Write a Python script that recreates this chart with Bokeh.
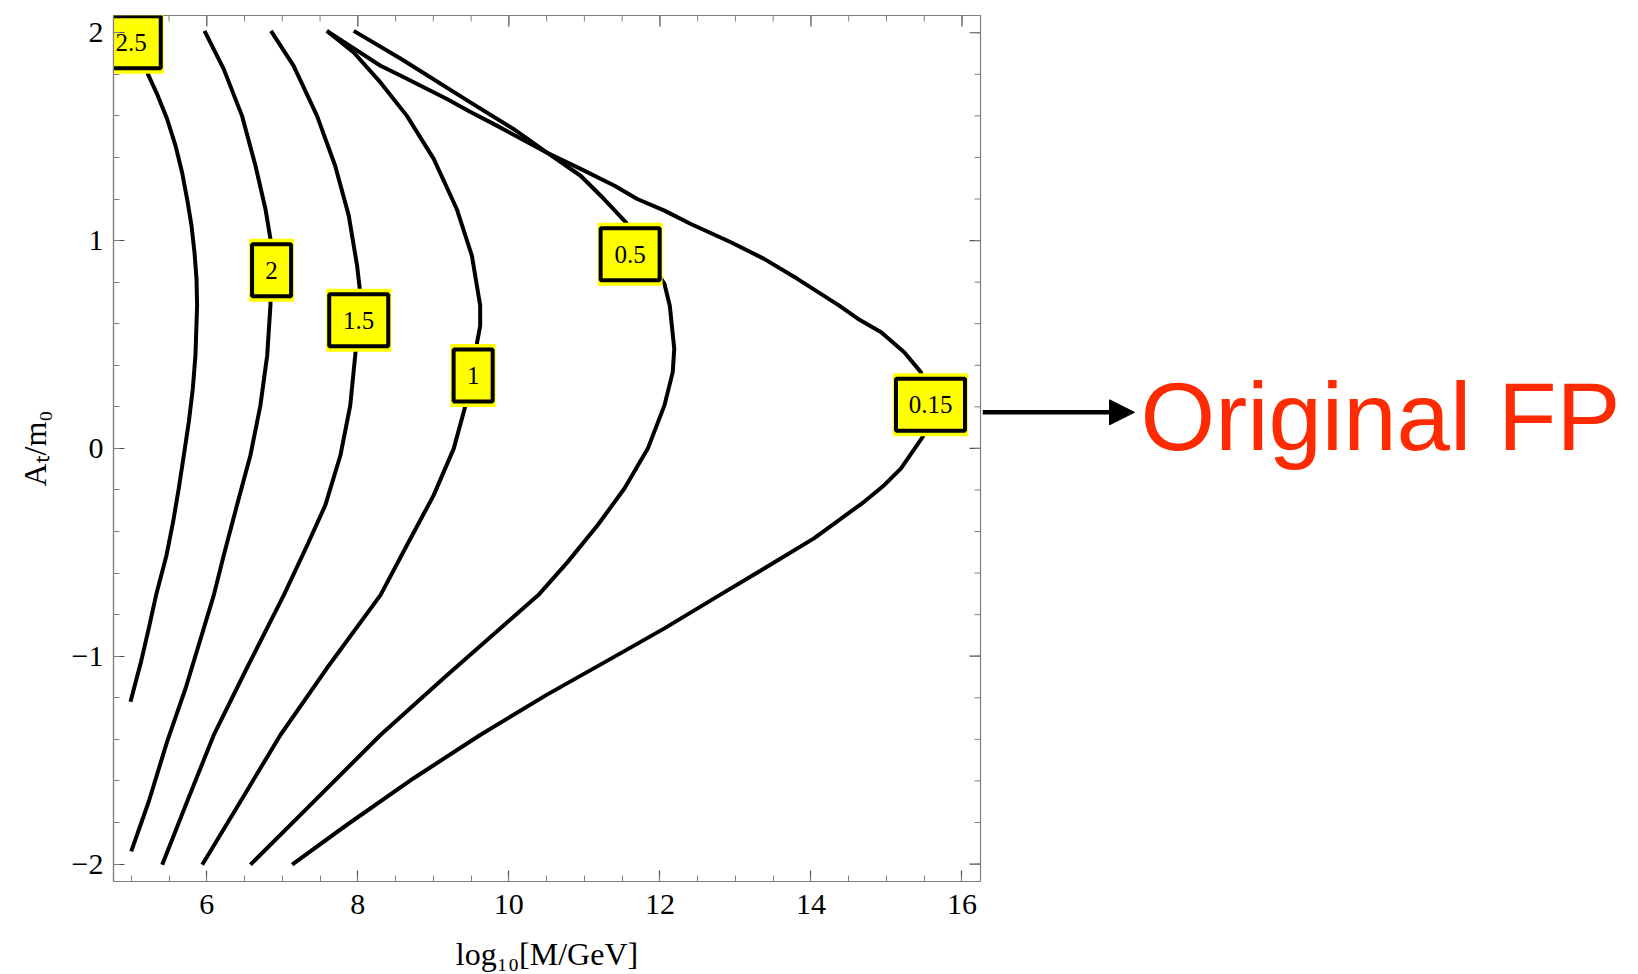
import math

from bokeh.plotting import figure
from bokeh.layouts import row
from bokeh.models import (ColumnDataSource, FixedTicker, Label, Arrow, NormalHead, Range1d,
                          LinearAxis)
from bokeh.core.properties import value
from bokeh.embed import file_html
from bokeh.resources import INLINE

# Contour lines of the fine-tuning measure in the (log10[M/GeV], A_t/m_0) plane,
# each listed from its upper end to its lower end.
x_c250 = [5.12, 5.21, 5.342, 5.475, 5.586, 5.673, 5.74, 5.798, 5.837, 5.864, 5.872, 5.85, 5.815,
          5.762, 5.696, 5.629, 5.554, 5.467, 5.329, 5.232, 5.13, 4.99]
y_c250 = [1.90, 1.809, 1.705, 1.585, 1.457, 1.328, 1.20, 1.072, 0.944, 0.816, 0.688, 0.447, 0.287,
          0.127, -0.033, -0.193, -0.354, -0.514, -0.706, -0.866, -1.026, -1.219]

x_c200 = [5.97, 6.225, 6.467, 6.645, 6.777, 6.843, 6.858, 6.843, 6.80, 6.71, 6.578, 6.40, 6.225,
          6.093, 5.96, 5.72, 5.475, 5.232, 5.0]
y_c200 = [2.009, 1.825, 1.60, 1.36, 1.152, 1.008, 0.857, 0.688, 0.447, 0.207, -0.033, -0.273, -0.514,
          -0.706, -0.866, -1.154, -1.411, -1.699, -1.939]

x_c150 = [6.85, 7.15, 7.46, 7.70, 7.88, 7.99, 8.025, 8.012, 7.97, 7.90, 7.77, 7.57, 7.33, 7.02,
          6.53, 6.093, 5.74, 5.41]
y_c150 = [2.009, 1.841, 1.60, 1.36, 1.12, 0.88, 0.769, 0.617, 0.463, 0.207, -0.033, -0.273, -0.466,
          -0.706, -1.058, -1.379, -1.699, -2.003]

x_c100 = [7.59, 7.946, 8.30, 8.65, 9.005, 9.31, 9.51, 9.62, 9.62, 9.58, 9.527, 9.42, 9.27, 9.005,
          8.65, 8.30, 7.59, 6.975, 6.446, 5.94]
y_c100 = [2.009, 1.905, 1.761, 1.60, 1.393, 1.152, 0.928, 0.688, 0.59, 0.511, 0.351, 0.199, -0.001,
          -0.225, -0.466, -0.706, -1.058, -1.379, -1.699, -2.003]

x_c050 = [7.59, 8.30, 8.57, 9.18, 9.48, 9.84, 10.50, 10.95, 11.26, 11.55, 11.80, 12.06, 12.13, 12.19,
          12.17, 12.06, 11.84, 11.53, 11.175, 10.78, 10.39, 9.18, 8.30, 7.33, 6.578]
y_c050 = [2.009, 1.841, 1.793, 1.681, 1.621, 1.553, 1.424, 1.312, 1.20, 1.088, 0.94, 0.792, 0.688,
          0.48, 0.367, 0.207, -0.001, -0.193, -0.37, -0.546, -0.706, -1.091, -1.379, -1.731, -2.003]

x_c015 = [7.946, 8.57, 9.49, 10.06, 10.50, 10.95, 11.40, 11.70, 12.06, 12.41, 12.94, 13.38, 13.82,
          14.37, 14.62, 14.93, 15.235, 15.455, 15.60, 15.48, 15.19, 14.97, 14.70, 14.04, 13.38, 12.79,
          12.06, 11.40, 10.50, 9.62, 8.74, 7.857, 7.13]
y_c015 = [2.009, 1.875, 1.665, 1.537, 1.424, 1.345, 1.264, 1.20, 1.144, 1.08, 0.992, 0.912, 0.816,
          0.688, 0.624, 0.559, 0.463, 0.367, 0.21, 0.055, -0.097, -0.177, -0.258, -0.433, -0.578,
          -0.706, -0.866, -1.002, -1.186, -1.379, -1.587, -1.811, -2.003]

# contour level labels and where they sit on their lines
levels = ["2.5", "2", "1.5", "1", "0.5", "0.15"]
level_x = [5.0, 6.858, 8.012, 9.527, 11.606, 15.583]
level_y = [1.954, 0.857, 0.617, 0.351, 0.934, 0.21]

x_ticks = [6, 8, 10, 12, 14, 16]
y_ticks = [-2, -1, 0, 1, 2]
x_minor = [5 + 0.5 * i for i in range(23)]
y_minor = [round(-2 + 0.2 * i, 1) for i in range(21)]

# the original focus-point line (0.15 contour) sits at this A_t/m_0
fp_y = 0.1735

X0, X1 = 4.765, 16.245
Y0, Y1 = -2.084, 2.083
FRAME_GREY = "#808080"
TICK_GREY = "#505050"

p = figure(width=982, height=974, x_range=Range1d(X0, X1), y_range=Range1d(Y0, Y1),
           x_axis_type=None, y_axis_type=None, output_backend="svg", toolbar_location=None,
           min_border_left=113, min_border_right=2, min_border_top=15, min_border_bottom=92)
p.outline_line_color = FRAME_GREY
p.outline_line_width = 1.2
p.background_fill_color = "white"
p.border_fill_color = "white"


def frame_axis(ticks, minor, standoff, label, label_standoff):
    ax = LinearAxis(ticker=FixedTicker(ticks=ticks, minor_ticks=minor))
    ax.axis_line_color = FRAME_GREY
    ax.axis_line_width = 1.2
    ax.major_tick_in = 11
    ax.major_tick_out = 0
    ax.minor_tick_in = 6
    ax.minor_tick_out = 0
    ax.major_tick_line_color = TICK_GREY
    ax.major_tick_line_width = 1.2
    ax.minor_tick_line_color = FRAME_GREY
    ax.minor_tick_line_width = 1
    ax.major_label_text_font = "Liberation Serif"
    ax.major_label_text_font_size = "30px"
    ax.major_label_text_color = "black"
    ax.major_label_standoff = standoff
    ax.axis_label = label
    ax.axis_label_text_font = "Liberation Serif"
    ax.axis_label_text_font_size = "32px"
    ax.axis_label_text_font_style = "normal"
    ax.axis_label_text_color = "black"
    ax.axis_label_standoff = label_standoff
    return ax


bottom = frame_axis(x_ticks, x_minor, 13, "log\u2081\u2080[M/GeV]", 19)
left = frame_axis(y_ticks, y_minor, 10, "A\u209c/m\u2080", 16)
left.major_label_overrides = {-2: "\u22122", -1: "\u22121"}
p.add_layout(bottom, "below")
p.add_layout(left, "left")

# inward ticks on the top and right edges of the frame (outer halves fall outside the clip)
p.scatter(x_ticks, [Y1] * len(x_ticks), marker="dash", angle=math.pi / 2, size=22,
          line_color=TICK_GREY, line_width=1.2)
p.scatter(x_minor, [Y1] * len(x_minor), marker="dash", angle=math.pi / 2, size=12,
          line_color=FRAME_GREY, line_width=1)
p.scatter([X1] * len(y_ticks), y_ticks, marker="dash", size=22,
          line_color=TICK_GREY, line_width=1.2)
p.scatter([X1] * len(y_minor), y_minor, marker="dash", size=12,
          line_color=FRAME_GREY, line_width=1)

# contour lines
for xs, ys in [(x_c250, y_c250), (x_c200, y_c200), (x_c150, y_c150),
               (x_c100, y_c100), (x_c050, y_c050), (x_c015, y_c015)]:
    p.line(xs, ys, line_color="black", line_width=4, line_join="round")

# boxed level labels
nch = [len(t) for t in levels]
src = ColumnDataSource(dict(x=level_x, y=level_y, text=levels,
                            w_box=[29 + 10 * k for k in nch],
                            w_halo=[35 + 10 * k for k in nch]))
p.rect("x", "y", width="w_halo", height=63, width_units="screen", height_units="screen",
       source=src, fill_color="#ffff00", line_color=None)
p.rect("x", "y", width="w_box", height=52, width_units="screen", height_units="screen",
       source=src, fill_color="#ffff00", line_color="black", line_width=4)
p.text("x", "y", text="text", source=src, text_font=value("Liberation Serif"),
       text_font_size="25px", text_align="center", text_baseline="middle",
       text_color="black")

# side panel: arrow pointing at the 0.15 line and its caption
side = figure(width=656, height=974, x_range=Range1d(0, 656), y_range=p.y_range,
              x_axis_type=None, y_axis_type=None, output_backend="svg", toolbar_location=None,
              min_border_left=0, min_border_right=0, min_border_top=15, min_border_bottom=92)
side.outline_line_color = None
side.background_fill_color = "white"
side.border_fill_color = "white"
side.add_layout(Arrow(x_start=0, y_start=fp_y, x_end=152, y_end=fp_y, line_color="black",
                      line_width=4.5,
                      end=NormalHead(size=25, fill_color="black", line_color="black",
                                     line_width=1)))
side.add_layout(Label(x=158, y=0.155, text="Original FP", text_font="Liberation Sans",
                      text_font_size="96px", text_color="#ff2a00",
                      text_align="left", text_baseline="alphabetic"))

layout = row(p, side, spacing=0)
open("out.html", "w").write(file_html(layout, INLINE))
